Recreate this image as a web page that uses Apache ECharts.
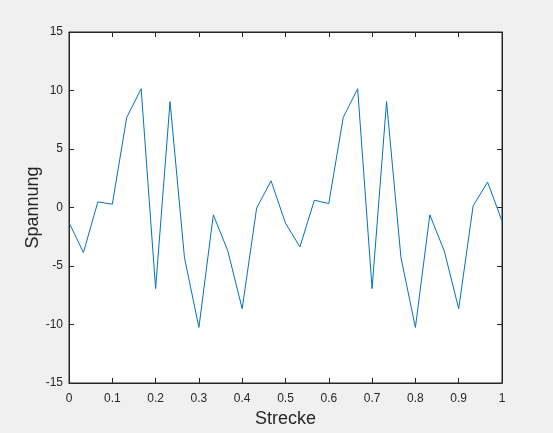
<!DOCTYPE html>
<html>
<head>
<meta charset="utf-8">
<script src="https://cdn.jsdelivr.net/npm/echarts@6/dist/echarts.min.js"></script>
<style>
html,body{margin:0;padding:0;background:#f0f0f0;}
#c{width:553px;height:433px;}
</style>
</head>
<body>
<div id="c"></div>
<script>
const strecke = [0, 1/30, 2/30, 3/30, 4/30, 5/30, 6/30, 7/30, 8/30, 9/30, 10/30,
  11/30, 12/30, 13/30, 14/30, 15/30, 16/30, 17/30, 18/30, 19/30, 20/30,
  21/30, 22/30, 23/30, 24/30, 25/30, 26/30, 27/30, 28/30, 29/30, 1];
const spannung = [-1.28, -3.85, 0.48, 0.28, 7.7, 10.15, -6.93, 9.05, -4.28, -10.25, -0.63,
  -3.7, -8.65, -0.05, 2.28, -1.34, -3.37, 0.62, 0.34, 7.7, 10.15,
  -6.93, 9.05, -4.28, -10.25, -0.63, -3.72, -8.65, 0.14, 2.17, -1.15];
const xLabel = 'Strecke';
const yLabel = 'Spannung';

const txt = '#262626';
const font = 'Liberation Sans, Arial, Helvetica, sans-serif';
const chart = echarts.init(document.getElementById('c'), null, {renderer: 'canvas'});
const pts = strecke.map((x, i) => [x, spannung[i]]);
const axLine = {show: true, onZero: false, lineStyle: {color: txt, width: 1}};
const tick = {show: true, inside: true, length: 5, lineStyle: {color: txt, width: 1}};
chart.setOption({
  backgroundColor: '#f0f0f0',
  animation: false,
  grid: {left: 69, right: 51, top: 32, bottom: 48, show: true, backgroundColor: '#ffffff', borderColor: txt, borderWidth: 1},
  xAxis: [{
    type: 'value', min: 0, max: 1, interval: 0.1, position: 'bottom',
    name: xLabel, nameLocation: 'middle', nameGap: 27, nameMoveOverlap: false,
    nameTextStyle: {color: txt, fontSize: 18, fontFamily: font},
    axisLine: axLine, axisTick: tick, splitLine: {show: false},
    axisLabel: {color: txt, fontSize: 12, fontFamily: font, margin: 10,
      formatter: v => String(+v.toFixed(1))}
  }, {
    type: 'value', min: 0, max: 1, interval: 0.1, position: 'top',
    axisLine: axLine, axisTick: tick, splitLine: {show: false}, axisLabel: {show: false}
  }],
  yAxis: [{
    type: 'value', min: -15, max: 15, interval: 5, position: 'left',
    name: yLabel, nameLocation: 'middle', nameGap: 27, nameMoveOverlap: false,
    nameTextStyle: {color: txt, fontSize: 18, fontFamily: font},
    axisLine: axLine, axisTick: tick, splitLine: {show: false},
    axisLabel: {color: txt, fontSize: 12, fontFamily: font, margin: 6}
  }, {
    type: 'value', min: -15, max: 15, interval: 5, position: 'right',
    axisLine: axLine, axisTick: tick, splitLine: {show: false}, axisLabel: {show: false}
  }],
  series: [{
    type: 'line', data: pts, showSymbol: false, symbol: 'none',
    lineStyle: {color: '#0072bd', width: 1}, itemStyle: {color: '#0072bd'}
  }]
});
</script>
</body>
</html>
